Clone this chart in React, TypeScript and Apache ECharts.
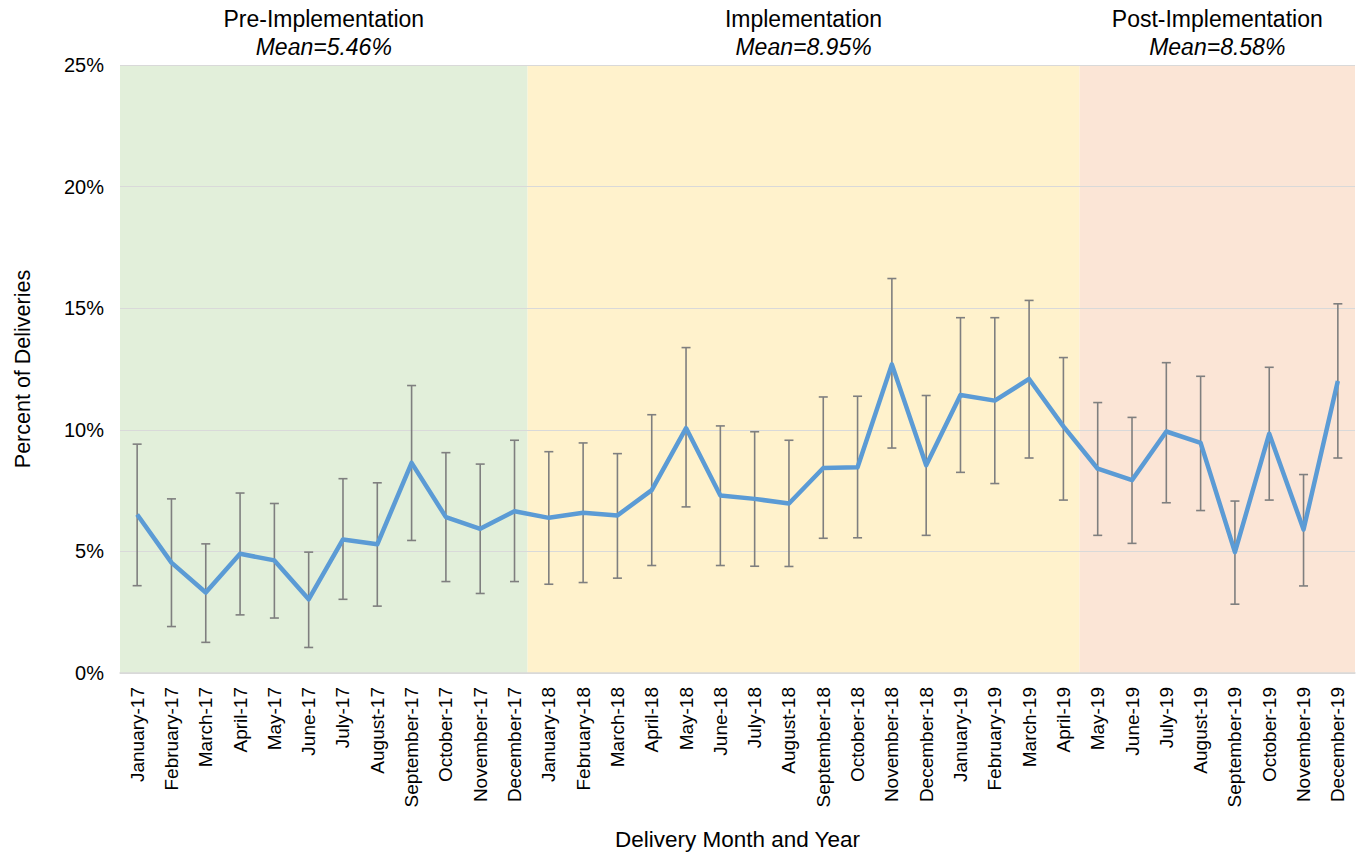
import React, { useEffect, useRef } from "react";
import * as echarts from "echarts";

const months = [
  "January-17","February-17","March-17","April-17","May-17","June-17","July-17","August-17","September-17","October-17","November-17","December-17",
  "January-18","February-18","March-18","April-18","May-18","June-18","July-18","August-18","September-18","October-18","November-18","December-18",
  "January-19","February-19","March-19","April-19","May-19","June-19","July-19","August-19","September-19","October-19","November-19","December-19",
];

const percent = [
  6.52, 4.54, 3.31, 4.90, 4.63, 3.03, 5.49, 5.29, 8.64, 6.41, 5.93, 6.65,
  6.38, 6.59, 6.48, 7.52, 10.07, 7.30, 7.16, 6.97, 8.43, 8.46, 12.69, 8.54,
  11.43, 11.20, 12.09, 10.14, 8.40, 7.93, 9.93, 9.46, 4.97, 9.84, 5.90, 12.01,
];

const lower = [
  3.59, 1.91, 1.26, 2.39, 2.26, 1.05, 3.03, 2.75, 5.45, 3.76, 3.27, 3.76,
  3.65, 3.72, 3.90, 4.42, 6.83, 4.42, 4.39, 4.38, 5.54, 5.56, 9.25, 5.66,
  8.25, 7.79, 8.84, 7.11, 5.66, 5.33, 7.00, 6.68, 2.83, 7.11, 3.58, 8.84,
];

const upper = [
  9.41, 7.16, 5.31, 7.40, 6.97, 4.97, 7.99, 7.82, 11.82, 9.06, 8.59, 9.57,
  9.10, 9.46, 9.02, 10.62, 13.38, 10.16, 9.92, 9.57, 11.35, 11.38, 16.22, 11.41,
  14.61, 14.61, 15.32, 12.97, 11.12, 10.51, 12.76, 12.20, 7.07, 12.57, 8.16, 15.18,
];

const phaseNames = ["Pre-Implementation", "Implementation", "Post-Implementation"];
const phaseMeans = ["Mean=5.46%", "Mean=8.95%", "Mean=8.58%"];
const phaseStart = [0, 11.88, 27.97];
const phaseEnd = [11.88, 27.97, 36];
const phaseColors = ["#E2EFDA", "#FFF2CC", "#FBE5D6"];

const yTicks = [0, 5, 10, 15, 20, 25];

export default function App() {
  const ref = useRef<HTMLDivElement>(null);

  useEffect(() => {
    if (!ref.current) return;
    const chart = echarts.init(ref.current, undefined, { renderer: "svg" });
    const font = "Liberation Sans, Arial, sans-serif";

    const areas = phaseNames.map((name, i) => [
      {
        xAxis: phaseStart[i],
        itemStyle: { color: phaseColors[i] },
        label: {
          formatter: `{a|${name}}\n{b|${phaseMeans[i]}}`,
        },
      },
      { xAxis: phaseEnd[i] },
    ]);

    chart.setOption({
      animation: false,
      textStyle: { fontFamily: font },
      grid: { left: 120, right: 7, top: 65, bottom: 180 },
      xAxis: [
        {
          type: "category",
          data: months,
          boundaryGap: true,
          z: 2,
          axisTick: { show: false },
          axisLine: { lineStyle: { color: "#D9D9D9", width: 1.5 } },
          axisLabel: {
            rotate: 90,
            interval: 0,
            color: "#000",
            fontSize: 19,
            fontFamily: font,
            margin: 14,
          },
          name: "Delivery Month and Year",
          nameLocation: "middle",
          nameGap: 155,
          nameTextStyle: { fontSize: 22.5, color: "#000", fontFamily: font },
        },
        { type: "value", min: 0, max: 36, show: false },
      ],
      yAxis: {
        type: "value",
        min: yTicks[0],
        max: yTicks[yTicks.length - 1],
        interval: 5,
        z: 2,
        axisLine: { show: false },
        axisTick: { show: false },
        splitLine: { lineStyle: { color: "#D9D9D9", width: 1 } },
        axisLabel: {
          formatter: "{value}%",
          color: "#000",
          fontSize: 20,
          fontFamily: font,
          margin: 16,
        },
        name: "Percent of Deliveries",
        nameLocation: "middle",
        nameGap: 86,
        nameRotate: 90,
        nameTextStyle: { fontSize: 21.5, color: "#000", fontFamily: font },
      },
      series: [
        {
          type: "line",
          xAxisIndex: 1,
          z: 1,
          data: [[0, null]],
          showSymbol: false,
          silent: true,
          lineStyle: { opacity: 0 },
          markArea: {
            silent: true,
            label: {
              show: true,
              position: "top",
              distance: 4,
              color: "#000",
              fontFamily: font,
              rich: {
                a: { fontSize: 23, lineHeight: 28, color: "#000", fontFamily: font },
                b: { fontSize: 23, lineHeight: 28, fontStyle: "italic", color: "#000", fontFamily: font },
              },
            },
            data: areas,
          },
        },
        {
          type: "custom",
          z: 3,
          xAxisIndex: 0,
          data: months.map((_, i) => [i, lower[i], upper[i]]),
          encode: { x: 0, y: [1, 2] },
          renderItem: (params: any, api: any) => {
            const idx = api.value(0);
            const lo = api.coord([idx, api.value(1)]);
            const hi = api.coord([idx, api.value(2)]);
            const hw = 4.5;
            const style = { stroke: "#7F7F7F", lineWidth: 1.6 };
            return {
              type: "group",
              children: [
                { type: "line", shape: { x1: lo[0], y1: lo[1], x2: hi[0], y2: hi[1] }, style },
                { type: "line", shape: { x1: hi[0] - hw, y1: hi[1], x2: hi[0] + hw, y2: hi[1] }, style },
                { type: "line", shape: { x1: lo[0] - hw, y1: lo[1], x2: lo[0] + hw, y2: lo[1] }, style },
              ],
            };
          },
        },
        {
          type: "line",
          z: 4,
          xAxisIndex: 0,
          data: percent,
          showSymbol: false,
          symbol: "none",
          lineStyle: { color: "#5B9BD5", width: 4.5, join: "round" },
        },
      ],
    });

    return () => chart.dispose();
  }, []);

  return (
    <div
      ref={ref}
      style={{ position: "absolute", left: 0, top: 0, width: 1362, height: 856, background: "#fff" }}
    />
  );
}
